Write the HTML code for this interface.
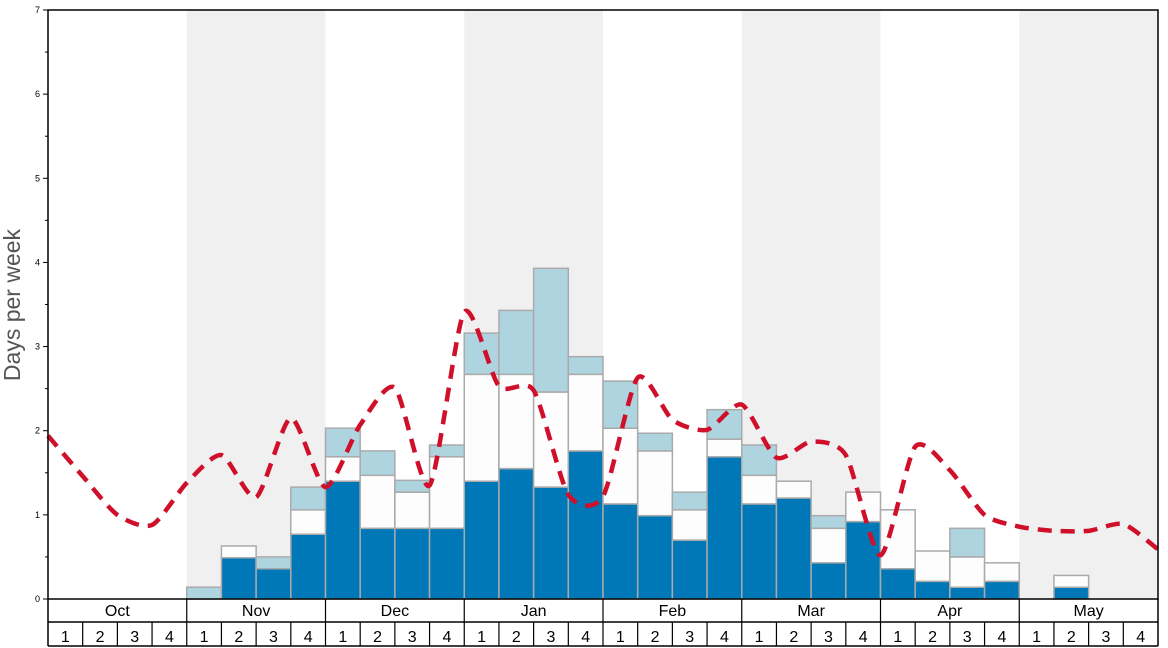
<!DOCTYPE html>
<html><head><meta charset="utf-8"><style>
body{margin:0;background:#fff;}
svg{display:block;font-family:"Liberation Sans","DejaVu Sans",sans-serif;}
</style></head><body>
<svg id="chart" width="1168" height="648" viewBox="0 0 1168 648" xmlns="http://www.w3.org/2000/svg">
<g id="bg"></g>
<g id="bars"></g>
<path id="avg" fill="none" stroke="#d0102b" stroke-width="4.5" stroke-dasharray="14,9"></path>
<g id="axes"></g>
<text transform="translate(20,305) rotate(-90)" text-anchor="middle" font-size="23" fill="#555">Days per week</text>
</svg>
<script>
const months=["Oct","Nov","Dec","Jan","Feb","Mar","Apr","May"];
const darkVals=[0,0,0,0, 0,0.49,0.36,0.77, 1.40,0.84,0.84,0.84, 1.40,1.55,1.33,1.76, 1.13,0.99,0.70,1.69, 1.13,1.20,0.43,0.92, 0.36,0.21,0.14,0.21, 0,0.14,0,0];
const whiteVals=[0,0,0,0, 0,0.14,0,0.29, 0.29,0.63,0.43,0.85, 1.27,1.12,1.13,0.91, 0.90,0.77,0.36,0.21, 0.34,0.20,0.41,0.35, 0.70,0.36,0.36,0.22, 0,0.14,0,0];
const lightVals=[0,0,0,0, 0.14,0,0.14,0.27, 0.34,0.29,0.14,0.14, 0.49,0.76,1.47,0.21, 0.56,0.21,0.21,0.35, 0.36,0,0.15,0, 0,0,0.34,0, 0,0,0,0];
const avgVals=[1.94,1.46,1.0,0.88,1.38,1.71,1.21,2.15,1.33,2.07,2.51,1.35,3.41,2.53,2.48,1.24,1.22,2.63,2.13,2.01,2.31,1.68,1.87,1.71,0.52,1.81,1.53,1.0,0.86,0.81,0.81,0.89,0.59];
const yTicks=[0,1,2,3,4,5,6,7];

const X0=48,X1=1158,Y0=599,Y1=10,YMAX=7,N=32;
const wW=(X1-X0)/N;
const xs=i=>X0+i*wW;
const ys=v=>Y0-v/YMAX*(Y0-Y1);
const NS="http://www.w3.org/2000/svg";
function mk(parent,tag,attrs){const e=document.createElementNS(NS,tag);for(const k in attrs)e.setAttribute(k,attrs[k]);parent.appendChild(e);return e;}
const bg=document.getElementById('bg'),bars=document.getElementById('bars'),axes=document.getElementById('axes');
months.forEach((m,i)=>{if(i%2==1){const r=mk(bg,'rect',{x:xs(i*4),y:Y1,width:wW*4,height:Y0-Y1,fill:'#f0f0f0'});

}});
for(let i=0;i<N;i++){
 let base=0;
 const segs=[[darkVals[i],'#0077b6','dark'],[whiteVals[i],'#fdfdfd','white'],[lightVals[i],'#aed4e0','light']];
 segs.forEach(([v,c,n])=>{ if(v>0){const r=mk(bars,'rect',{x:xs(i),y:ys(base+v),width:wW,height:ys(base)-ys(base+v),fill:c,stroke:'#aaa','stroke-width':1.5});
 
 
 base+=v;}});
}
// smooth line (catmull-rom)
const pts=avgVals.map((v,i)=>[xs(i),ys(v)]);
let d='M'+pts[0][0]+','+pts[0][1];
for(let i=0;i<pts.length-1;i++){const p0=pts[Math.max(0,i-1)],p1=pts[i],p2=pts[i+1],p3=pts[Math.min(pts.length-1,i+2)];
 const t=0.12;
 d+=` C${p1[0]+(p2[0]-p0[0])*t},${p1[1]+(p2[1]-p0[1])*t} ${p2[0]-(p3[0]-p1[0])*t},${p2[1]-(p3[1]-p1[1])*t} ${p2[0]},${p2[1]}`;}
document.getElementById('avg').setAttribute('d',d);
// axes
mk(axes,'rect',{x:X0,y:Y1,width:X1-X0,height:Y0-Y1,fill:'none',stroke:'#000','stroke-width':1.5});
yTicks.forEach(v=>{mk(axes,'line',{x1:X0-5,x2:X0,y1:ys(v),y2:ys(v),stroke:'#000'});
 const t=mk(axes,'text',{x:X0-8,y:ys(v)+3,'text-anchor':'end','font-size':9,fill:'#000'});t.textContent=v;
 
 
 if(v<YMAX)mk(axes,'line',{x1:X0-3,x2:X0,y1:ys(v+0.5),y2:ys(v+0.5),stroke:'#000'});});
mk(axes,'line',{x1:X0,x2:X1,y1:622,y2:622,stroke:'#000','stroke-width':1.5});
mk(axes,'line',{x1:X0,x2:X1,y1:646,y2:646,stroke:'#000','stroke-width':1.5});
mk(axes,'line',{x1:X0,x2:X0,y1:Y0,y2:646,stroke:'#000','stroke-width':1.5});
mk(axes,'line',{x1:X1,x2:X1,y1:Y0,y2:646,stroke:'#000','stroke-width':1.5});
months.forEach((m,i)=>{
 if(i>0)mk(axes,'line',{x1:xs(i*4),x2:xs(i*4),y1:Y0,y2:646,stroke:'#000','stroke-width':1.2});
 const t=mk(axes,'text',{x:xs(i*4+2),y:616,'text-anchor':'middle','font-size':16,fill:'#000'});t.textContent=m;
 
 
 for(let w=0;w<4;w++){const k=i*4+w;
  if(w>0)mk(axes,'line',{x1:xs(k),x2:xs(k),y1:622,y2:646,stroke:'#000','stroke-width':1.2});
  const tt=mk(axes,'text',{x:xs(k)+wW/2,y:642,'text-anchor':'middle','font-size':16,fill:'#000'});tt.textContent=w+1;
  
  }
});
</script>
</body></html>
